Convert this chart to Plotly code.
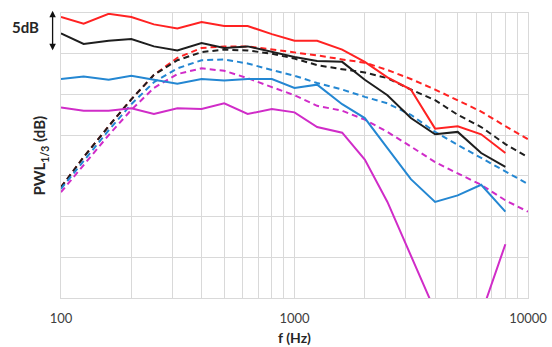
import plotly.graph_objects as go

# One-third-octave band centre frequencies (Hz)
bands = [100, 125, 160, 200, 250, 315, 400, 500, 630, 800, 1000,
         1250, 1600, 2000, 2500, 3150, 4000, 5000, 6300, 8000]
bands_model = bands + [10000]

# Measured band levels (dB, relative)
meas_red = [34.5, 33.7, 34.9, 34.5, 33.6, 33.1, 33.9, 33.4, 33.4, 32.4, 31.6,
            31.6, 30.5, 29.0, 27.1, 25.6, 20.8, 21.1, 20.1, 17.8]
meas_black = [32.5, 31.2, 31.6, 31.8, 30.9, 30.4, 31.3, 30.7, 30.9, 30.2, 29.6,
              29.1, 29.0, 26.8, 24.9, 22.1, 20.1, 20.4, 17.8, 16.1]
meas_blue = [26.9, 27.2, 26.8, 27.3, 26.8, 26.3, 26.9, 26.7, 26.9, 26.9, 25.8,
             26.2, 23.8, 22.1, 18.4, 14.6, 11.8, 12.6, 13.9, 10.6]
meas_magenta = [23.4, 23.0, 23.0, 23.3, 22.6, 23.3, 23.2, 23.9, 22.6, 23.2, 22.8,
                21.0, 20.3, 17.0, 11.8, 5.1, -1.6, -4.0, -2.0, 6.6]

# Predicted band levels (dB, relative)
model_red = [13.6, 17.3, 21.1, 24.4, 27.4, 29.5, 30.7, 30.9, 30.9, 30.5, 30.2,
             29.8, 29.3, 28.9, 28.0, 26.9, 25.6, 24.3, 22.9, 21.1, 19.5]
model_black = [13.6, 17.3, 21.1, 24.4, 27.4, 29.2, 30.2, 30.5, 30.4, 30.0, 29.4,
               28.6, 28.1, 27.7, 27.0, 25.6, 24.3, 22.5, 21.0, 18.9, 17.3]
model_blue = [13.4, 16.8, 20.6, 23.8, 26.5, 28.2, 29.2, 29.3, 28.8, 28.0, 27.3,
              26.4, 25.6, 24.7, 23.9, 22.5, 20.4, 18.8, 17.2, 15.5, 14.0]
model_magenta = [13.0, 16.3, 20.0, 23.1, 25.8, 27.5, 28.2, 27.9, 27.0, 25.9, 24.9,
                 23.6, 23.0, 21.9, 20.4, 18.6, 16.7, 15.3, 13.9, 12.0, 10.6]

x_ticks = [100, 1000, 10000]
x_tick_text = ["100", "1000", "10000"]
minor_grid = [200, 300, 400, 500, 600, 700, 800, 900,
              2000, 3000, 4000, 5000, 6000, 7000, 8000, 9000]

RED = "#FF2222"
BLACK = "#1E1E1E"
BLUE = "#2487D2"
MAGENTA = "#D02CC8"

fig = go.Figure()

for vals, col in [(model_red, RED), (model_black, BLACK),
                  (model_blue, BLUE), (model_magenta, MAGENTA)]:
    fig.add_trace(go.Scatter(x=bands_model, y=vals, mode="lines",
                             line=dict(color=col, width=2, dash="6px,4px"),
                             showlegend=False, hoverinfo="skip"))

for vals, col in [(meas_magenta, MAGENTA), (meas_blue, BLUE),
                  (meas_black, BLACK), (meas_red, RED)]:
    fig.add_trace(go.Scatter(x=bands, y=vals, mode="lines",
                             line=dict(color=col, width=2),
                             showlegend=False, hoverinfo="skip"))

GRID = "#D9D9D9"
FONT = "Lato, 'Open Sans', sans-serif"

fig.update_xaxes(
    type="log", range=[2, 4], automargin=False,
    tickvals=x_ticks, ticktext=x_tick_text,
    showgrid=True, gridcolor=GRID, gridwidth=1,
    minor=dict(tickvals=minor_grid, showgrid=True, gridcolor=GRID, gridwidth=1, ticks=""),
    showline=True, linecolor=GRID, linewidth=1, mirror=True,
    ticks="", ticklabelstandoff=8,
    tickfont=dict(family=FONT, size=13, color="#404040"),
    zeroline=False,
)
fig.update_yaxes(
    range=[0, 35], dtick=5, tick0=0, automargin=False,
    showgrid=True, gridcolor=GRID, gridwidth=1,
    showline=True, linecolor=GRID, linewidth=1, mirror=True,
    showticklabels=False, ticks="", zeroline=False,
)

fig.add_annotation(text="<b>PWL<sub>1/3</sub> (dB)</b>", textangle=-90,
                   xref="paper", yref="paper", x=-0.045, y=0.5,
                   xanchor="center", yanchor="middle", showarrow=False,
                   font=dict(family=FONT, size=15, color="#262626"))
fig.add_annotation(text="<b>f (Hz)</b>",
                   xref="paper", yref="paper", x=0.5, y=-0.14,
                   xanchor="center", yanchor="middle", showarrow=False,
                   font=dict(family=FONT, size=14, color="#262626"))

# 5 dB scale marker
fig.add_annotation(text="<b>5dB</b>",
                   xref="paper", yref="paper", x=-0.077, y=0.951,
                   xanchor="center", yanchor="middle", showarrow=False,
                   font=dict(family=FONT, size=15, color="#262626"))
fig.add_annotation(text="", xref="paper", yref="paper", x=-0.018, y=1.008,
                   axref="pixel", ayref="pixel", ax=0, ay=41,
                   showarrow=True, arrowside="end+start", arrowhead=2,
                   arrowsize=1, arrowwidth=1.3, arrowcolor="#111111",
                   standoff=0, startstandoff=0)

fig.update_layout(
    width=552, height=347,
    margin=dict(l=61, r=24, t=13, b=49),
    paper_bgcolor="white", plot_bgcolor="white",
    showlegend=False,
)

fig.write_html("out.html")
